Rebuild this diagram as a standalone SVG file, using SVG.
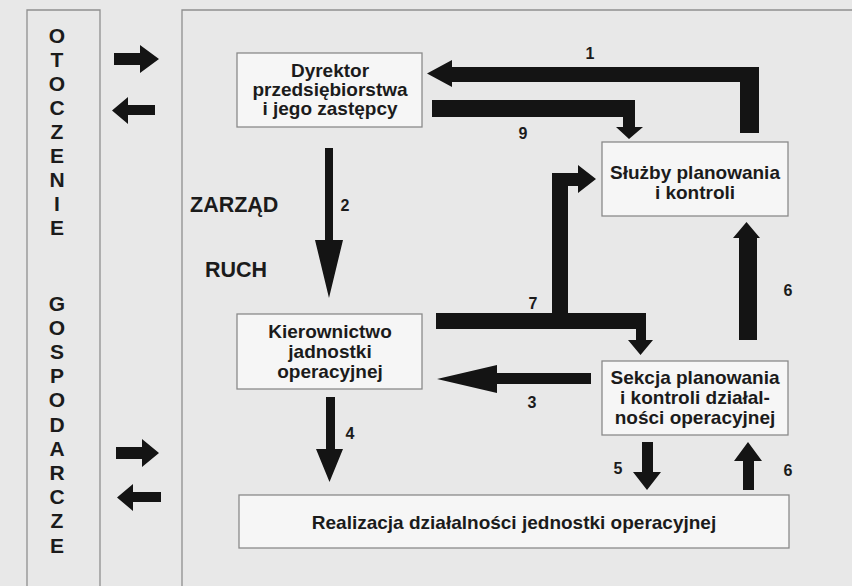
<svg xmlns="http://www.w3.org/2000/svg" width="852" height="586" viewBox="0 0 852 586">
  <style>
    .frame { fill: none; stroke: #8f8f8f; stroke-width: 1.3; }
    .box { fill: #f6f6f6; stroke: #8a8a8a; stroke-width: 1.3; }
    .t { font-family: "Liberation Sans", Arial, sans-serif; font-weight: bold; fill: #1b1b1b; }
    .node { font-size: 19px; text-anchor: middle; }
    .side { font-size: 21px; text-anchor: middle; }
    .lbl { font-size: 21.5px; }
    .num { font-size: 16px; text-anchor: middle; }
    .arr { fill: #141414; }
  </style>

  <!-- paper -->
  <rect x="0" y="0" width="852" height="586" fill="#e8e8e8"/>

  <!-- environment strip and main frame -->
  <g id="frames">
    <path class="frame" d="M27,588 V10 H100 V588"/>
    <path class="frame" d="M182,588 V10 H854"/>
  </g>

  <!-- vertical side caption -->
  <g id="otoczenie">
    <text class="t side">
      <tspan x="57" y="42.5">O</tspan><tspan x="57" dy="24">T</tspan><tspan x="57" dy="24">O</tspan><tspan x="57" dy="24">C</tspan><tspan x="57" dy="24">Z</tspan><tspan x="57" dy="24">E</tspan><tspan x="57" dy="24">N</tspan><tspan x="57" dy="24">I</tspan><tspan x="57" dy="24">E</tspan>
    </text>
    <text class="t side">
      <tspan x="57" y="310.5">G</tspan><tspan x="57" dy="24.2">O</tspan><tspan x="57" dy="24.2">S</tspan><tspan x="57" dy="24.2">P</tspan><tspan x="57" dy="24.2">O</tspan><tspan x="57" dy="24.2">D</tspan><tspan x="57" dy="24.2">A</tspan><tspan x="57" dy="24.2">R</tspan><tspan x="57" dy="24.2">C</tspan><tspan x="57" dy="24.2">Z</tspan><tspan x="57" dy="24.2">E</tspan>
    </text>
  </g>

  <!-- level captions -->
  <g id="levels">
    <text class="t lbl" x="190" y="212">ZARZĄD</text>
    <text class="t lbl" x="205" y="277">RUCH</text>
  </g>

  <!-- nodes -->
  <g id="dyrektor">
    <rect class="box" x="237" y="53" width="185" height="74"/>
    <text class="t node" x="330" y="77">Dyrektor</text>
    <text class="t node" x="330" y="96">przedsiębiorstwa</text>
    <text class="t node" x="330" y="115">i jego zastępcy</text>
  </g>

  <g id="sluzby">
    <rect class="box" x="602" y="142" width="186" height="74"/>
    <text class="t node" x="695" y="179">Służby planowania</text>
    <text class="t node" x="695" y="199">i kontroli</text>
  </g>

  <g id="kierownictwo">
    <rect class="box" x="237" y="314" width="185" height="75"/>
    <text class="t node" x="330" y="338">Kierownictwo</text>
    <text class="t node" x="330" y="358">jadnostki</text>
    <text class="t node" x="330" y="378">operacyjnej</text>
  </g>

  <g id="sekcja">
    <rect class="box" x="602" y="361" width="186" height="74"/>
    <text class="t node" x="695" y="384">Sekcja planowania</text>
    <text class="t node" x="695" y="404">i kontroli działal-</text>
    <text class="t node" x="695" y="424">ności operacyjnej</text>
  </g>

  <g id="realizacja">
    <rect class="box" x="239" y="495" width="550" height="53"/>
    <text class="t node" x="514" y="529">Realizacja działalności jednostki operacyjnej</text>
  </g>

  <!-- connectors (block arrows) -->
  <g id="connectors">
    <!-- exchange with the environment -->
    <path class="arr" d="M114,53 H140 V45 L159,59 L140,73 V65 H114 Z"/>
    <path class="arr" d="M155,105 H128 V97 L112,110.5 L128,124 V115 H155 Z"/>
    <path class="arr" d="M116,447 H142 V439 L159,453 L142,467 V459 H116 Z"/>
    <path class="arr" d="M161,492 H133 V484 L117,497.5 L133,511 V502 H161 Z"/>

    <!-- 1: planning services to director -->
    <path class="arr" d="M740,133 V82 H452 V87 L427,73.5 L452,60 V67 H759 V133 Z"/>
    <!-- 9: director to planning services -->
    <path class="arr" d="M432,100 H635 V127 H643 L629,139 L616,127 H623 V117 H432 Z"/>
    <!-- 2: director to unit management -->
    <path class="arr" d="M325,148 H333 V240 H343 L329,298 L315,240 H325 Z"/>
    <!-- 7: unit management to services and section -->
    <path class="arr" d="M436,313 H552 V173 H578 V165 L596,179 L578,193 V186 H568 V313 H646 V340 H653 L640.5,355 L628,340 H636 V329 H436 Z"/>
    <!-- 3: section to unit management -->
    <path class="arr" d="M591,373 H497 V365 L437,379 L497,393 V384 H591 Z"/>
    <!-- 4: unit management to operations -->
    <path class="arr" d="M326,397 H335 V449 H343 L329.5,482 L316,449 H326 Z"/>
    <!-- 5: section to operations -->
    <path class="arr" d="M642,442 H653 V472 H661 L647,490 L633,472 H642 Z"/>
    <!-- 6: operations to section -->
    <path class="arr" d="M743,490 V461 H734 L748,442 L762,461 H754 V490 Z"/>
    <!-- 6: section to planning services -->
    <path class="arr" d="M739,340 V238 H733 L746.5,222 L760,238 H757 V340 Z"/>
  </g>

  <!-- connector numbers -->
  <g id="numbers">
    <text class="t num" x="590" y="59">1</text>
    <text class="t num" x="523" y="139">9</text>
    <text class="t num" x="345" y="211">2</text>
    <text class="t num" x="533" y="309">7</text>
    <text class="t num" x="532" y="408">3</text>
    <text class="t num" x="350" y="439">4</text>
    <text class="t num" x="618" y="474">5</text>
    <text class="t num" x="788" y="296">6</text>
    <text class="t num" x="788" y="476">6</text>
  </g>
</svg>
